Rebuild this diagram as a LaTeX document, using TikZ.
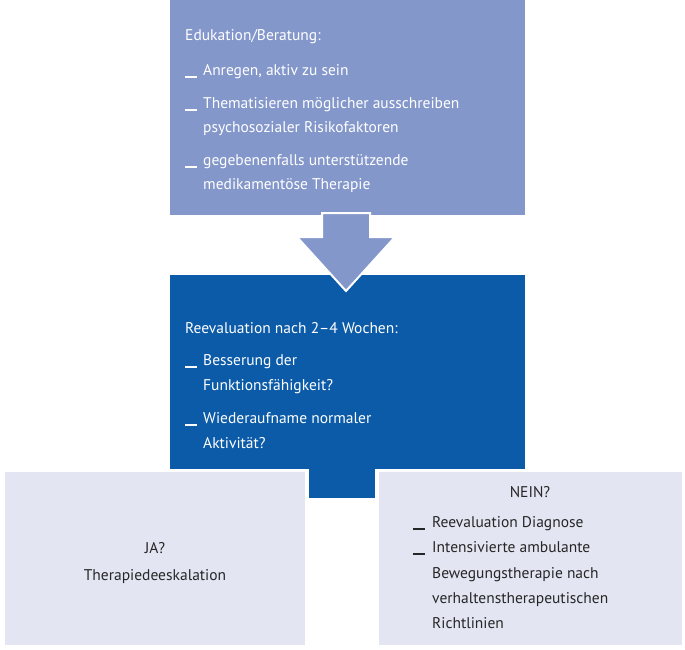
\documentclass[tikz,border=0pt]{standalone}
\usepackage{fontspec}
\setmainfont{PT Sans}
\begin{document}
\begin{tikzpicture}[x=1pt,y=-1pt,
  txt/.style={anchor=west,inner sep=0pt,font=\fontsize{15.5}{18}\selectfont,text depth=0pt},
  wtxt/.style={txt,text=white},
  dtxt/.style={txt,text=black!85},
  bul/.style={line width=1.2pt}]
\definecolor{lav}{HTML}{8497CB}
\definecolor{dblue}{HTML}{0B5BA8}
\definecolor{pale}{HTML}{E3E5F2}
\useasboundingbox (0,0) rectangle (685,649);
% boxes
\fill[lav] (170,0) rectangle (525,215);
\fill[dblue] (170,275) rectangle (525,469);
\fill[dblue] (309,469) rectangle (375,498);
\fill[pale] (5,472) rectangle (305,645);
\fill[pale] (379,472) rectangle (682,645);
% arrow
\fill[lav,draw=white,line width=2pt] (322,213) -- (370,213) -- (370,237) -- (395,237) -- (346,291) -- (297,237) -- (322,237) -- cycle;
% top text
\node[wtxt] (t0) at (185,35) {Edukation/Beratung:};
\node[wtxt] (t1) at (203,70) {Anregen, aktiv zu sein};
\node[wtxt] (t2) at (203,103) {Thematisieren möglicher ausschreiben};
\node[wtxt] (t2b) at (203,127) {psychosozialer Risikofaktoren};
\node[wtxt] (t3) at (203,160) {gegebenenfalls unterstützende};
\node[wtxt] (t3b) at (203,184) {medikamentöse Therapie};
\foreach \y in {77,110,167} \draw[white,bul] (185,\y) -- (197,\y);
% middle text
\node[wtxt] (m0) at (185,328) {Reevaluation nach 2–4 Wochen:};
\node[wtxt] (m1) at (203,360) {Besserung der};
\node[wtxt] (m1b) at (203,385) {Funktionsfähigkeit?};
\node[wtxt] (m2) at (203,418) {Wiederaufname normaler};
\node[wtxt] (m2b) at (203,443) {Aktivität?};
\foreach \y in {367,425} \draw[white,bul] (185,\y) -- (197,\y);
% left
\node[dtxt,anchor=center] (ja) at (155,548) {JA?};
\node[dtxt,anchor=center] (ja2) at (155,575) {Therapiedeeskalation};
% right
\node[dtxt,anchor=center] (nein) at (530,492) {NEIN?};
\node[dtxt] (r1) at (432,522) {Reevaluation Diagnose};
\node[dtxt] (r2) at (432,547) {Intensivierte ambulante};
\node[dtxt] (r2b) at (432,573) {Bewegungstherapie nach};
\node[dtxt] (r2c) at (432,598) {verhaltenstherapeutischen};
\node[dtxt] (r2d) at (432,623) {Richtlinien};
\foreach \y in {529,554} \draw[black!85,bul] (413,\y) -- (425,\y);
\end{tikzpicture}
\end{document}
